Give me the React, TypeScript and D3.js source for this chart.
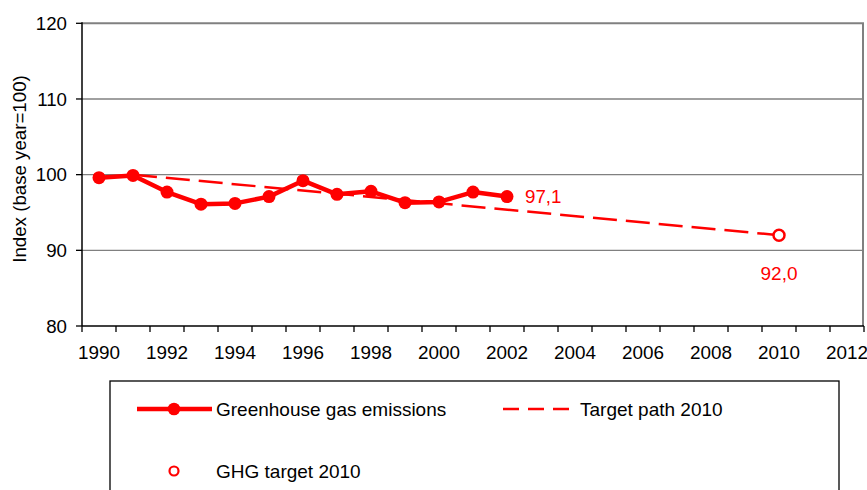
import * as d3 from 'd3';

const years = [1990, 1991, 1992, 1993, 1994, 1995, 1996, 1997, 1998, 1999, 2000, 2001, 2002, 2003, 2004, 2005, 2006, 2007, 2008, 2009, 2010, 2011, 2012];
const tickYears = [1990, 1992, 1994, 1996, 1998, 2000, 2002, 2004, 2006, 2008, 2010, 2012];
const yTicks = [80, 90, 100, 110, 120];

const ghgYears = [1990, 1991, 1992, 1993, 1994, 1995, 1996, 1997, 1998, 1999, 2000, 2001, 2002];
const ghgValues = [99.6, 99.9, 97.7, 96.1, 96.2, 97.1, 99.2, 97.4, 97.8, 96.3, 96.4, 97.7, 97.1];

const targetPathYears = [1991, 2010];
const targetPathValues = [100, 92.0];

const targetYear = 2010;
const targetValue = 92.0;

const RED = '#FF0000';
const FONT = '"Liberation Sans", Arial, sans-serif';

const W = 867;
const H = 490;
const left = 82;
const right = 864;
const top = 23.3;
const bottom = 326;

export default function App() {
  const x = d3.scaleBand<number>().domain(years).range([left, right]).padding(0);
  const y = d3.scaleLinear().domain([80, 120]).range([bottom, top]);
  const cx = (yr: number) => (x(yr) ?? 0) + x.bandwidth() / 2;

  const ghg = ghgYears.map((yr, i) => ({ yr, v: ghgValues[i] }));
  const path = targetPathYears.map((yr, i) => ({ yr, v: targetPathValues[i] }));

  const line = d3.line<{ yr: number; v: number }>().x(d => cx(d.yr)).y(d => y(d.v));

  const lastGhg = ghg[ghg.length - 1];
  const boundaries = years.map(yr => x(yr) ?? 0).concat([right]);

  return (
    <svg width={W} height={H} style={{ position: 'absolute', left: 0, top: 0, background: '#fff' }} fontFamily={FONT}>
      {/* grid + frame */}
      {yTicks.filter(t => t > 80).map(t => (
        <line key={t} x1={left} x2={right} y1={y(t)} y2={y(t)} stroke="#808080" strokeWidth={t === 120 ? 2 : 1.3} />
      ))}
      <line x1={right - 1} x2={right - 1} y1={top} y2={bottom} stroke="#808080" strokeWidth={2} />

      {/* y axis */}
      <line x1={left} x2={left} y1={top - 1} y2={bottom} stroke="#000" strokeWidth={1.5} />
      {yTicks.map(t => (
        <g key={t}>
          <line x1={left - 6} x2={left} y1={y(t)} y2={y(t)} stroke="#000" strokeWidth={1.3} />
          <text x={67} y={y(t)} dy="0.35em" textAnchor="end" fontSize={18.7} fill="#000">{t}</text>
        </g>
      ))}
      <text transform={`translate(26,169) rotate(-90)`} textAnchor="middle" fontSize={18.7} fill="#000">
        Index (base year=100)
      </text>

      {/* x axis */}
      <line x1={left} x2={right} y1={bottom} y2={bottom} stroke="#000" strokeWidth={1.5} />
      {boundaries.map((bx, i) => (
        <line key={i} x1={bx} x2={bx} y1={bottom} y2={bottom + 6} stroke="#000" strokeWidth={1.3} />
      ))}
      {tickYears.map(yr => (
        <text key={yr} x={cx(yr)} y={359} textAnchor="middle" fontSize={18.9} fill="#000">{yr}</text>
      ))}

      {/* target path */}
      <path d={line(path) ?? ''} fill="none" stroke={RED} strokeWidth={2.5} strokeDasharray="24 9" />

      {/* emissions */}
      <path d={line(ghg) ?? ''} fill="none" stroke={RED} strokeWidth={4.5} strokeLinejoin="round" />
      {ghg.map(d => (
        <circle key={d.yr} cx={cx(d.yr)} cy={y(d.v)} r={6.5} fill={RED} />
      ))}
      <text x={cx(lastGhg.yr) + 18} y={y(lastGhg.v) + 6.5} fontSize={18.7} fill={RED}>
        {d3.format('.1f')(lastGhg.v).replace('.', ',')}
      </text>

      {/* target */}
      <circle cx={cx(targetYear)} cy={y(targetValue)} r={5.5} fill="#fff" stroke={RED} strokeWidth={2.5} />
      <text x={cx(targetYear)} y={280} textAnchor="middle" fontSize={19} fill={RED}>
        {d3.format('.1f')(targetValue).replace('.', ',')}
      </text>

      {/* legend */}
      <rect x={110} y={381} width={729} height={140} fill="none" stroke="#000" strokeWidth={1.3} />
      <line x1={137} x2={212} y1={409} y2={409} stroke={RED} strokeWidth={4.5} />
      <circle cx={174} cy={409} r={6.3} fill={RED} />
      <text x={216} y={416} fontSize={19} fill="#000">Greenhouse gas emissions</text>
      <line x1={503} x2={569} y1={409} y2={409} stroke={RED} strokeWidth={2.5} strokeDasharray="16 9" />
      <text x={580} y={416} fontSize={19} fill="#000">Target path 2010</text>
      <circle cx={174} cy={471} r={4.5} fill="#fff" stroke={RED} strokeWidth={2.2} />
      <text x={216} y={478} fontSize={19} fill="#000">GHG target 2010</text>
    </svg>
  );
}
